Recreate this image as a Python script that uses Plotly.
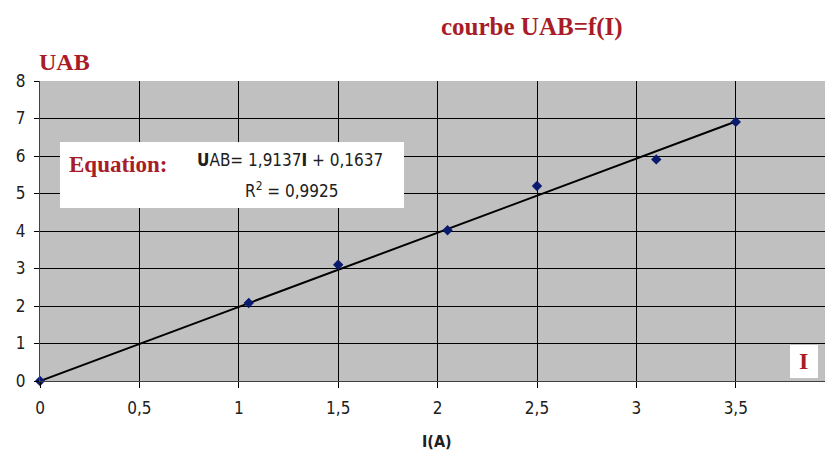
import plotly.graph_objects as go

# data
I_vals = [0, 1.05, 1.5, 2.05, 2.5, 3.1, 3.5]
U_vals = [0, 2.08, 3.1, 4.02, 5.2, 5.91, 6.91]
fit_x = [0, 3.5]
fit_y = [0, 6.92]
x_ticks = [0, 0.5, 1, 1.5, 2, 2.5, 3, 3.5, 4]
x_tick_text = ["0", "0,5", "1", "1,5", "2", "2,5", "3", "3,5", "4"]
y_ticks = [0, 1, 2, 3, 4, 5, 6, 7, 8]

RED = "#a81c28"
SERIF = "Liberation Serif, DejaVu Serif, serif"
NARROW = "DejaVu Sans Condensed, Liberation Sans Narrow, Liberation Sans, sans-serif"

# page offset (body margin) = 8 px
OFF = 8
W, H = 833 - OFF, 458 - OFF
PL, PT, PB = 40, 81, 381          # plot edges in page pixels
PR = 833
XS = 198.8                          # px per x unit
YS = 37.5                           # px per y unit


def dx(px):
    return (px - PL) / XS


def dy(py):
    return (PB - py) / YS


def px_paper(px):
    return (px - PL) / (PR - PL)


def py_paper(py):
    return (PB - py) / (PB - PT)


fig = go.Figure()
fig.add_trace(go.Scatter(x=fit_x, y=fit_y, mode="lines",
                         line=dict(color="black", width=2), hoverinfo="skip"))
fig.add_trace(go.Scatter(x=I_vals, y=U_vals, mode="markers",
                         marker=dict(symbol="diamond", size=8, color="#0a1a6e"),
                         cliponaxis=False))

fig.update_layout(
    width=W, height=H,
    margin=dict(l=PL - OFF, r=0, t=PT - OFF, b=H - (PB - OFF)),
    paper_bgcolor="white", plot_bgcolor="#c0c0c0",
    showlegend=False,
    font=dict(family=NARROW, size=17, color="black"),
)
fig.update_xaxes(range=[0, (PR - PL) / XS], tickvals=x_ticks, ticktext=x_tick_text,
                 showgrid=True, gridcolor="black", gridwidth=1.4,
                 ticks="outside", ticklen=6, tickcolor="black",
                 ticklabelstandoff=6,
                 showline=True, linecolor="#404040", linewidth=1,
                 zeroline=False, mirror=False,
                 tickfont=dict(family=NARROW, size=17, color="#202020"))
fig.update_yaxes(range=[0, 8], tickvals=y_ticks,
                 showgrid=True, gridcolor="black", gridwidth=1.4,
                 ticks="outside", ticklen=5, tickcolor="black",
                 ticklabelstandoff=5,
                 showline=True, linecolor="#404040", linewidth=1, mirror=True,
                 zeroline=False,
                 tickfont=dict(family=NARROW, size=17, color="#202020"))

# x-axis title
fig.add_annotation(text="<b>I(A)</b>", xref="paper", yref="paper",
                   x=px_paper(437), y=py_paper(441), xanchor="center", yanchor="middle",
                   showarrow=False,
                   font=dict(family=NARROW, size=16, color="#202020"))

# Title and y label
fig.add_annotation(text="<b>courbe UAB=f(I)</b>", xref="paper", yref="paper",
                   x=px_paper(532), y=py_paper(27), xanchor="center", yanchor="middle",
                   showarrow=False,
                   font=dict(family=SERIF, size=25, color=RED))
fig.add_annotation(text="<b>UAB</b>", xref="paper", yref="paper",
                   x=px_paper(37), y=py_paper(62), xanchor="left", yanchor="middle",
                   showarrow=False,
                   font=dict(family=SERIF, size=24, color=RED))

# equation box
fig.add_shape(type="rect", xref="x", yref="y",
              x0=dx(60), x1=dx(404), y0=dy(208), y1=dy(142),
              fillcolor="white", line=dict(width=0), layer="above")
fig.add_annotation(text="<b>Equation:</b>", xref="x", yref="y",
                   x=dx(67), y=dy(164), xanchor="left", yanchor="middle",
                   showarrow=False, font=dict(family=SERIF, size=23, color=RED))
fig.add_annotation(text="<b>U</b>AB= 1,9137<b>I</b> + 0,1637", xref="x", yref="y",
                   x=dx(290), y=dy(160), yanchor="middle",
                   showarrow=False, font=dict(family=NARROW, size=17, color="#202020"))
fig.add_annotation(text="R<sup>2</sup> = 0,9925", xref="x", yref="y",
                   x=dx(291), y=dy(190), yanchor="middle",
                   showarrow=False, font=dict(family=NARROW, size=17, color="#202020"))

# "I" box
fig.add_shape(type="rect", xref="x", yref="y",
              x0=dx(790), x1=dx(818), y0=dy(378), y1=dy(345),
              fillcolor="white", line=dict(width=0), layer="above")
fig.add_annotation(text="<b>I</b>", xref="x", yref="y",
                   x=dx(803), y=dy(361), yanchor="middle",
                   showarrow=False, font=dict(family=SERIF, size=24, color=RED))

fig.write_html("out.html")
